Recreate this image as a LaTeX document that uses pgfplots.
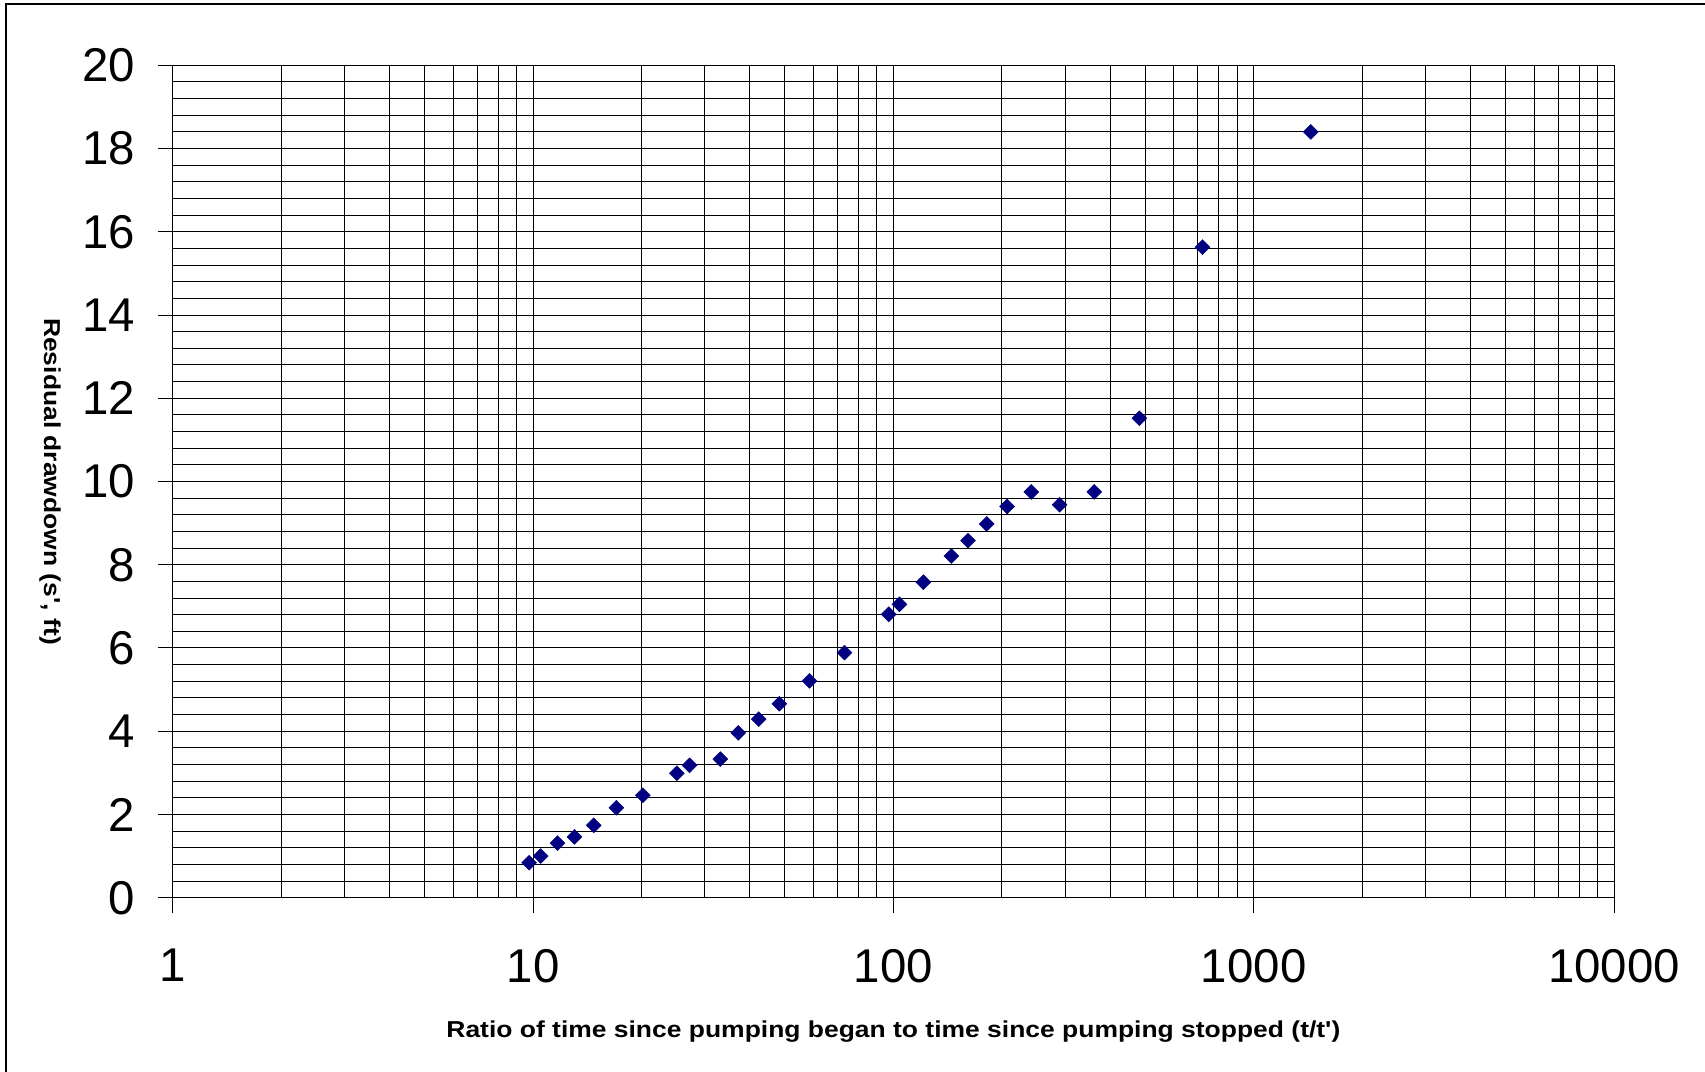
\documentclass[border=0pt]{standalone}
\usepackage{fontspec}
\setmainfont{Liberation Sans}
\newfontfamily\labelfont[FakeStretch=1.15, BoldFont=Liberation Sans Bold]{Liberation Sans}
\usepackage{pgfplots}
\pgfplotsset{compat=1.18}
\definecolor{navy}{RGB}{0,0,128}
\begin{document}
\begin{tikzpicture}
\useasboundingbox (0,0) rectangle (852.5bp,536bp);
\draw[line width=0.9bp] (3bp,0) -- (3bp,534bp) -- (852.5bp,534bp);
\begin{axis}[
  at={(86.35bp,87.15bp)}, anchor=south west,
  scale only axis, width=720.65bp, height=416.2bp,
  xmode=log, log basis x=10,
  xmin=1, xmax=10000, ymin=0, ymax=20,
  xtick={1,10,100,1000,10000},
  xticklabels={1,10,100,1000,10000},
  minor xtick={2,3,4,5,6,7,8,9,20,30,40,50,60,70,80,90,200,300,400,500,600,700,800,900,2000,3000,4000,5000,6000,7000,8000,9000},
  ytick={0,2,4,6,8,10,12,14,16,18,20},
  minor ytick={0.4,0.8,1.2,1.6,2.4,2.8,3.2,3.6,4.4,4.8,5.2,5.6,6.4,6.8,7.2,7.6,8.4,8.8,9.2,9.6,10.4,10.8,11.2,11.6,12.4,12.8,13.2,13.6,14.4,14.8,15.2,15.6,16.4,16.8,17.2,17.6,18.4,18.8,19.2,19.6},
  grid=both,
  major grid style={black, line width=0.5bp},
  minor grid style={black, line width=0.5bp},
  axis line style={black, line width=0.5bp},
  tick style={black, line width=0.5bp},
  major tick length=7.5bp,
  minor tick length=0pt,
  tick align=outside,
  xtick pos=bottom, ytick pos=left,
  /pgf/number format/assume math mode=true,
  ticklabel style={font=\fontsize{23.7bp}{28bp}\selectfont, inner sep=0pt},
  yticklabel style={anchor=east, xshift=-11bp},
  xticklabel style={anchor=north, yshift=-18bp},
  xlabel={Ratio of time since pumping began to time since pumping stopped (t/t')},
  ylabel={Residual drawdown (s', ft)},
  label style={font=\labelfont\bfseries\fontsize{11.5bp}{13bp}\selectfont},
  xlabel style={at={(axis description cs:0.5,0)}, anchor=base, yshift=-70bp},
  ylabel style={at={(axis description cs:-0.0851,0.5)}, anchor=center, rotate=180},
]
\addplot[only marks, mark=square*, mark size=2.65bp, mark options={rotate=45, fill=navy, draw=navy, line width=0.2bp}] table {
x y
9.75 0.84
10.50 1.00
11.69 1.31
13.03 1.46
14.74 1.74
17.03 2.16
20.18 2.46
25.08 2.99
27.2 3.18
33.1 3.33
37.1 3.96
42.3 4.29
48.3 4.66
58.5 5.21
73.2 5.89
97.1 6.81
104.0 7.05
121.2 7.58
144.9 8.21
161.2 8.58
181.6 8.98
206.8 9.40
241.5 9.75
289.4 9.44
361.2 9.75
481.5 11.52
721 15.63
1441 18.40
};
\end{axis}
\end{tikzpicture}
\end{document}
